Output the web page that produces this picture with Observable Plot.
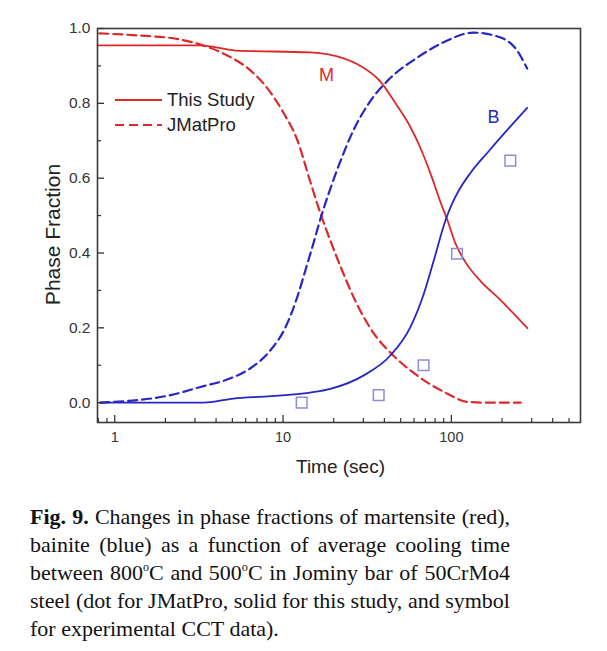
<!DOCTYPE html>
<html>
<head>
<meta charset="utf-8">
<script src="https://cdn.jsdelivr.net/npm/d3@7"></script>
<script src="https://cdn.jsdelivr.net/npm/@observablehq/plot@0.6"></script>
<style>
  body { margin: 0; background: #fff; }
  #wrap { position: relative; width: 607px; }
  #legend { position: absolute; left: 0; top: 0; }
  #caption { font-family: "Liberation Serif", "Times New Roman", serif; font-size: 22px; line-height: 28px; color: #111; margin: 18px 0 0 30px; width: 480px; }
  .ln { display: flex; justify-content: space-between; white-space: nowrap; }
  .last { white-space: nowrap; }
  sup { font-size: 0.55em; vertical-align: 0.75em; line-height: 0; }
</style>
</head>
<body>
<div id="wrap">
  <div id="chart"></div>
</div>
<div id="caption"></div>
<script>
// ---------------- data ----------------
// Martensite, this study (solid red)
const mStudyT = [0.79, 3.23, 5.22, 14.5, 22.9, 28.8, 37.9, 46.6, 57.2, 65.6, 75.2, 86.3, 94.9, 105.9, 121.5, 149, 188, 283];
const mStudyV = [0.955, 0.955, 0.941, 0.936, 0.920, 0.900, 0.858, 0.800, 0.736, 0.680, 0.612, 0.535, 0.487, 0.425, 0.375, 0.325, 0.282, 0.199];
// Martensite, JMatPro (dashed red)
const mJmatT = [0.81, 1.42, 2.35, 3.23, 4.66, 6.4, 8.08, 10.05, 12.2, 14.3, 16.7, 19.4, 22.5, 26.5, 34.5, 44.7, 59.5, 94.8, 124.6, 171, 258];
const mJmatV = [0.987, 0.981, 0.972, 0.957, 0.928, 0.888, 0.840, 0.775, 0.700, 0.600, 0.505, 0.425, 0.352, 0.278, 0.186, 0.128, 0.080, 0.024, 0.002, 0.0, 0.0];
// Bainite, this study (solid blue)
const bStudyT = [0.82, 3.37, 5.07, 8.05, 14.5, 19.1, 30.2, 43.4, 57.1, 68.6, 78.6, 92.2, 101, 110.7, 129.8, 166.7, 282];
const bStudyV = [0.0, 0.0, 0.011, 0.017, 0.027, 0.037, 0.073, 0.126, 0.202, 0.291, 0.380, 0.487, 0.532, 0.567, 0.614, 0.672, 0.788];
// Bainite, JMatPro (dashed blue)
const bJmatT = [0.82, 2.14, 3.23, 4.87, 6.4, 8.42, 10.3, 12.2, 13.6, 15.2, 16.9, 19.1, 21.9, 26.2, 33.0, 41.7, 62.7, 89.8, 135, 196, 246, 282];
const bJmatV = [0.0, 0.02, 0.042, 0.065, 0.092, 0.14, 0.20, 0.285, 0.355, 0.428, 0.500, 0.572, 0.645, 0.728, 0.806, 0.860, 0.922, 0.963, 0.989, 0.976, 0.941, 0.893];
// Experimental CCT data (open squares)
const expT = [12.9, 37.0, 68.4, 108, 224];
const expV = [0.0, 0.02, 0.10, 0.398, 0.647];
// Curve labels
const curveLabels = ["M", "B"];
const curveLabelT = [18.1, 178];
const curveLabelV = [0.874, 0.762];
// Ticks
const xMajor = [1, 10, 100];
const xMinor = [0.8, 0.9, 2, 3, 4, 5, 6, 7, 8, 9, 20, 30, 40, 50, 60, 70, 80, 90, 200, 300, 400, 500];
const yMajor = [0, 0.2, 0.4, 0.6, 0.8, 1.0];
const yMinor = [0.1, 0.3, 0.5, 0.7, 0.9];

const RED = "#dc2828";
const BLUE = "#2626c4";
const pairs = (T, V) => T.map((t, i) => ({t, v: V[i]}));

const mStudy = pairs(mStudyT, mStudyV);
const mJmat = pairs(mJmatT, mJmatV);
const bStudy = pairs(bStudyT, bStudyV);
const bJmat = pairs(bJmatT, bJmatV);
const exp = pairs(expT, expV);
const labels = curveLabels.map((s, i) => ({s, t: curveLabelT[i], v: curveLabelV[i], c: i === 0 ? RED : BLUE}));

const W = 607, H = 485, ML = 97, MR = 27, MT = 28, MB = 63;
const FW = W - ML - MR, FH = H - MT - MB;

const chart = Plot.plot({
  width: W,
  height: H,
  marginLeft: ML,
  marginRight: MR,
  marginTop: MT,
  marginBottom: MB,
  x: {type: "log", domain: [0.79, 585]},
  y: {domain: [-0.053, 1.0]},
  style: {fontFamily: "'Liberation Sans', Arial, sans-serif", color: "#333", background: "#fff"},
  marks: [
    Plot.line(mJmat, {x: "t", y: "v", stroke: RED, strokeWidth: 2.2, strokeDasharray: "9,5", curve: "monotone-x"}),
    Plot.line(bJmat, {x: "t", y: "v", stroke: BLUE, strokeWidth: 2.2, strokeDasharray: "9,5", curve: "monotone-x"}),
    Plot.line(mStudy, {x: "t", y: "v", stroke: RED, strokeWidth: 1.8, curve: "monotone-x"}),
    Plot.line(bStudy, {x: "t", y: "v", stroke: BLUE, strokeWidth: 1.8, curve: "monotone-x"}),
    Plot.dot(exp, {x: "t", y: "v", symbol: "square", r: 6, stroke: "#8c8cd8", strokeWidth: 1.5, fill: "none"}),
    Plot.text(labels, {x: "t", y: "v", text: "s", fill: "c", fontSize: 18}),
    // inward ticks
    Plot.tickX(xMajor, {x: d => d, insetTop: FH - 7, stroke: "#333", strokeWidth: 1.3}),
    Plot.tickX(xMinor, {x: d => d, insetTop: FH - 4, stroke: "#333", strokeWidth: 1.2}),
    Plot.tickY(yMajor, {y: d => d, insetRight: FW - 7, stroke: "#333", strokeWidth: 1.3}),
    Plot.tickY(yMinor, {y: d => d, insetRight: FW - 4, stroke: "#333", strokeWidth: 1.2}),
    Plot.frame({stroke: "#3a3a3a", strokeWidth: 1.6}),
    // tick labels
    Plot.axisX(xMajor, {anchor: "bottom", tickSize: 0, tickPadding: 9, tickFormat: d => String(d), fontSize: 14.5, fill: "#333", label: null}),
    Plot.axisY(yMajor, {anchor: "left", tickSize: 0, tickPadding: 7, tickFormat: d3.format(".1f"), fontSize: 15.5, fill: "#333", label: null}),
    // axis titles
    Plot.text(["Time (sec)"], {frameAnchor: "bottom", textAnchor: "middle", lineAnchor: "middle", dy: 44.7, dx: 1.5, fontSize: 19, fill: "#222"}),
    Plot.text(["Phase Fraction"], {frameAnchor: "left", textAnchor: "middle", lineAnchor: "middle", dx: -44, dy: 9, rotate: -90, fontSize: 21, fill: "#222"})
  ]
});
document.getElementById("chart").appendChild(chart);

// legend overlay
const leg = d3.select("#wrap").append("svg").attr("id", "legend").attr("width", 300).attr("height", 140)
  .style("font-family", "'Liberation Sans', Arial, sans-serif");
const legItems = [{name: "This Study", dash: null, y: 100}, {name: "JMatPro", dash: "9,5", y: 125}];
legItems.forEach(d => {
  leg.append("line").attr("x1", 115).attr("x2", 162).attr("y1", d.y).attr("y2", d.y)
    .attr("stroke", RED).attr("stroke-width", 2).attr("stroke-dasharray", d.dash);
  leg.append("text").attr("x", 167).attr("y", d.y).attr("dy", "0.35em").attr("font-size", 18.5)
    .attr("fill", "#222").text(d.name);
});

// caption
const capLines = [
  ["<b>Fig.</b>", "<b>9.</b>", "Changes", "in", "phase", "fractions", "of", "martensite", "(red),"],
  ["bainite", "(blue)", "as", "a", "function", "of", "average", "cooling", "time"],
  ["between", "800<sup>o</sup>C", "and", "500<sup>o</sup>C", "in", "Jominy", "bar", "of", "50CrMo4"],
  ["steel", "(dot", "for", "JMatPro,", "solid", "for", "this", "study,", "and", "symbol"]
];
const lastLine = "for experimental CCT data).";
const cap = document.getElementById("caption");
capLines.forEach(words => {
  const div = document.createElement("div");
  div.className = "ln";
  div.innerHTML = words.map(w => `<span>${w}</span>`).join("");
  cap.appendChild(div);
});
const last = document.createElement("div");
last.className = "last";
last.textContent = lastLine;
cap.appendChild(last);
</script>
</body>
</html>
